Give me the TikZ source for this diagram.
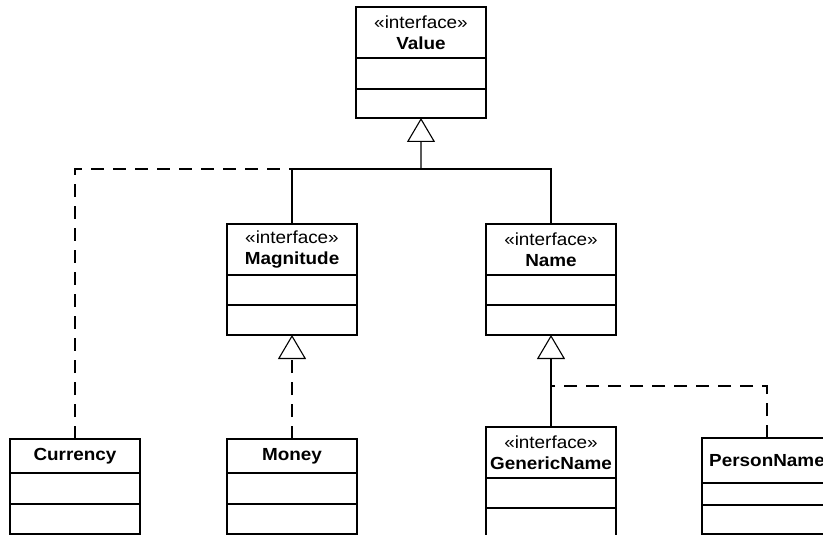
\documentclass[tikz,border=0pt]{standalone}
\usepackage{fontspec}
\setmainfont[FakeStretch=1.08]{Liberation Sans}
\usetikzlibrary{arrows.meta}

% one UML class: header node plus two empty compartments below it
% #1 name, #2 left x, #3 top y, #4 header height, #5/#6 compartment heights, #7 header text
\newcommand\umlclassbox[7]{%
  \node[classhead, minimum height=#4bp] (#1) at (#2,#3) {#7};
  \node[compartment, minimum height=#5bp] (#1-attr) at (#1.south west) {};
  \node[compartment, minimum height=#6bp] (#1-ops) at (#1-attr.south west) {};
}

\begin{document}
\begin{tikzpicture}[x=1bp, y=-1bp, line width=1.1bp,
  classhead/.style={draw, rectangle, anchor=north west, minimum width=130bp,
    inner sep=0pt, outer sep=0pt, align=center,
    font=\fontsize{17.5bp}{21bp}\selectfont},
  compartment/.style={draw, rectangle, anchor=north west, minimum width=130bp,
    inner sep=0pt, outer sep=0pt},
  generalize/.style={-{Triangle[open, width=28bp, length=24bp, line width=1.1bp]}},
  realize/.style={dash pattern=on 13bp off 9bp}]
\useasboundingbox (0,0) rectangle (823,535);
\clip (0,0) rectangle (823,535);

% interfaces
\umlclassbox{Value}{356}{7}{51}{31}{29}{«interface»\\\textbf{Value}}
\umlclassbox{Magnitude}{227}{224}{51}{30}{30}{«interface»\\\textbf{Magnitude}}
\umlclassbox{Name}{486}{224}{51}{30}{30}{«interface»\\\textbf{Name}}
\umlclassbox{GenericName}{486}{427}{51}{30}{40}{«interface»\\\textbf{GenericName}}

% concrete classes
\umlclassbox{Currency}{10}{439}{34}{31}{30}{\textbf{Currency}}
\umlclassbox{Money}{227}{439}{34}{31}{30}{\textbf{Money}}
\umlclassbox{PersonName}{702}{438}{45}{22}{29}{\textbf{PersonName}}

% junction points of the shared connectors
\coordinate (valuejoin) at (421,169);
\coordinate (namejoin) at (551,386);

% generalizations and realizations towards Value
\draw[realize] (Currency.north) |- (valuejoin);
\draw (Magnitude.north) |- (valuejoin);
\draw (Name.north) |- (valuejoin);
\draw[generalize] (valuejoin) -- (Value-ops.south);

% realization of Magnitude
\draw[realize, generalize] (Money.north) -- (Magnitude-ops.south);

% generalization / realization towards Name
\draw[realize] (PersonName.north) |- (namejoin);
\draw[generalize] (GenericName.north) -- (Name-ops.south);
\end{tikzpicture}
\end{document}
